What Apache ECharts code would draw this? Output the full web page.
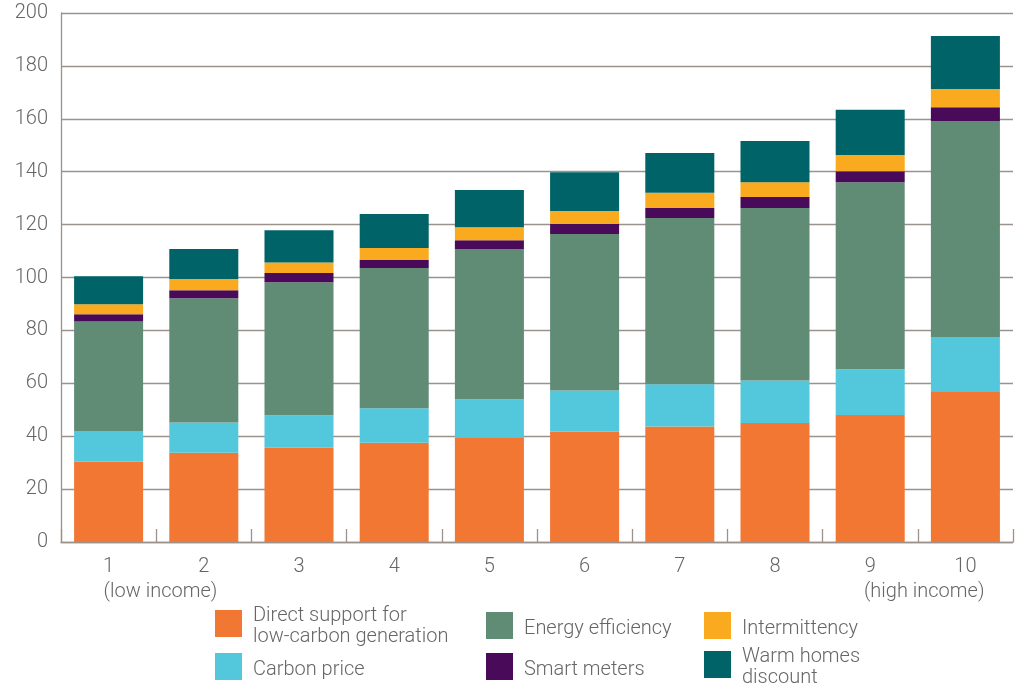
<!DOCTYPE html>
<html><head><meta charset="utf-8">
<script src="https://cdn.jsdelivr.net/npm/echarts@6/dist/echarts.min.js"></script>
<style>html,body{margin:0;padding:0;background:#fff}#c{width:1024px;height:690px}</style>
</head><body><div id="c"></div>
<script>
const categories = ['1','2','3','4','5','6','7','8','9','10'];
const directSupport    = [30.4, 33.7, 35.6, 37.5, 39.6, 41.8, 43.7, 45.0, 48.0, 56.7];
const carbonPrice      = [11.4, 11.5, 12.3, 13.1, 14.4, 15.5, 15.9, 16.1, 17.3, 20.6];
const energyEfficiency = [41.6, 47.0, 50.3, 53.0, 56.8, 59.1, 62.9, 65.2, 70.7, 81.9];
const smartMeters      = [2.7, 3.0, 3.5, 3.0, 3.3, 3.8, 3.8, 4.1, 4.2, 5.2];
const intermittency    = [3.8, 4.2, 4.0, 4.6, 4.9, 4.9, 5.7, 5.6, 6.1, 6.9];
const warmHomes        = [10.6, 11.4, 12.2, 12.8, 14.1, 14.7, 15.1, 15.6, 17.1, 20.0];
const yMin = 0, yMax = 200, yInterval = 20;
const lowLabel = '(low income)', highLabel = '(high income)';

const FONT = "Roboto, 'Open Sans', sans-serif";
const FW = 300;
const TXT = '#666666';
const LINE = '#9c928b';

const names = {
  ds: 'Direct support for\nlow-carbon generation',
  cp: 'Carbon price',
  ee: 'Energy efficiency',
  sm: 'Smart meters',
  im: 'Intermittency',
  wh: 'Warm homes\ndiscount'
};
const colors = {ds:'#F17733', cp:'#53C7DB', ee:'#608C76', sm:'#4A0A5A', im:'#F9AA1F', wh:'#006367'};

function mkSeries(key, data){
  return {name: names[key], type:'bar', stack:'total', data: data, barWidth:'72.5%',
    itemStyle:{color: colors[key]}, emphasis:{disabled:true}};
}
function mkLegend(key, left, top){
  return {data:[names[key]], left:left, top:top, padding:0, itemWidth:27, itemHeight:27,
    icon:'rect', orient:'vertical', selectedMode:false,
    formatter: function(n){ return n.split('\n').map(function(s){ return '{t|' + s + '}'; }).join('\n'); },
    textStyle:{fontFamily:FONT, fontWeight:FW, fontSize:20, color:TXT, lineHeight:21, padding:[0,0,0,6],
      rich:{t:{fontFamily:FONT, fontWeight:FW, fontSize:20, color:TXT, lineHeight:21, padding:[6,0,0,0]}}}};
}

const chart = echarts.init(document.getElementById('c'), null, {renderer:'canvas'});
chart.setOption({
  animation:false,
  backgroundColor:'#fff',
  grid:{left:61, right:11, top:13, bottom:148, containLabel:false},
  xAxis:{type:'category', data:categories,
    axisLine:{lineStyle:{color:LINE, width:1.3}},
    axisTick:{show:true, inside:true, length:13, lineStyle:{color:LINE, width:1.3}},
    axisLabel:{fontFamily:FONT, fontWeight:FW, fontSize:20, color:TXT, margin:15}},
  yAxis:{type:'value', min:yMin, max:yMax, interval:yInterval,
    axisLine:{show:true, lineStyle:{color:LINE, width:1.3}},
    axisTick:{show:false},
    splitLine:{lineStyle:{color:LINE, width:1.3}},
    axisLabel:{fontFamily:FONT, fontWeight:FW, fontSize:20, color:TXT, margin:13}},
  legend:[
    mkLegend('ds',215,600), mkLegend('cp',215,653),
    mkLegend('ee',486,612), mkLegend('sm',486,653),
    mkLegend('im',704,612), mkLegend('wh',704,641)
  ],
  series:[
    mkSeries('ds', directSupport),
    mkSeries('cp', carbonPrice),
    mkSeries('ee', energyEfficiency),
    mkSeries('sm', smartMeters),
    mkSeries('im', intermittency),
    mkSeries('wh', warmHomes)
  ]
});
const x1 = chart.convertToPixel({xAxisIndex:0}, categories[0]);
const x10 = chart.convertToPixel({xAxisIndex:0}, categories[categories.length-1]);
const yBase = chart.convertToPixel({yAxisIndex:0}, yMin);
chart.setOption({graphic:[
  {type:'text', left: x1 - 5, top: yBase + 40, style:{text: lowLabel, fontFamily:FONT, fontWeight:FW, fontSize:20, fill:TXT}},
  {type:'text', right: 1024 - (x10 + 19), top: yBase + 40, style:{text: highLabel, fontFamily:FONT, fontWeight:FW, fontSize:20, fill:TXT}}
]});
</script>
</body></html>
